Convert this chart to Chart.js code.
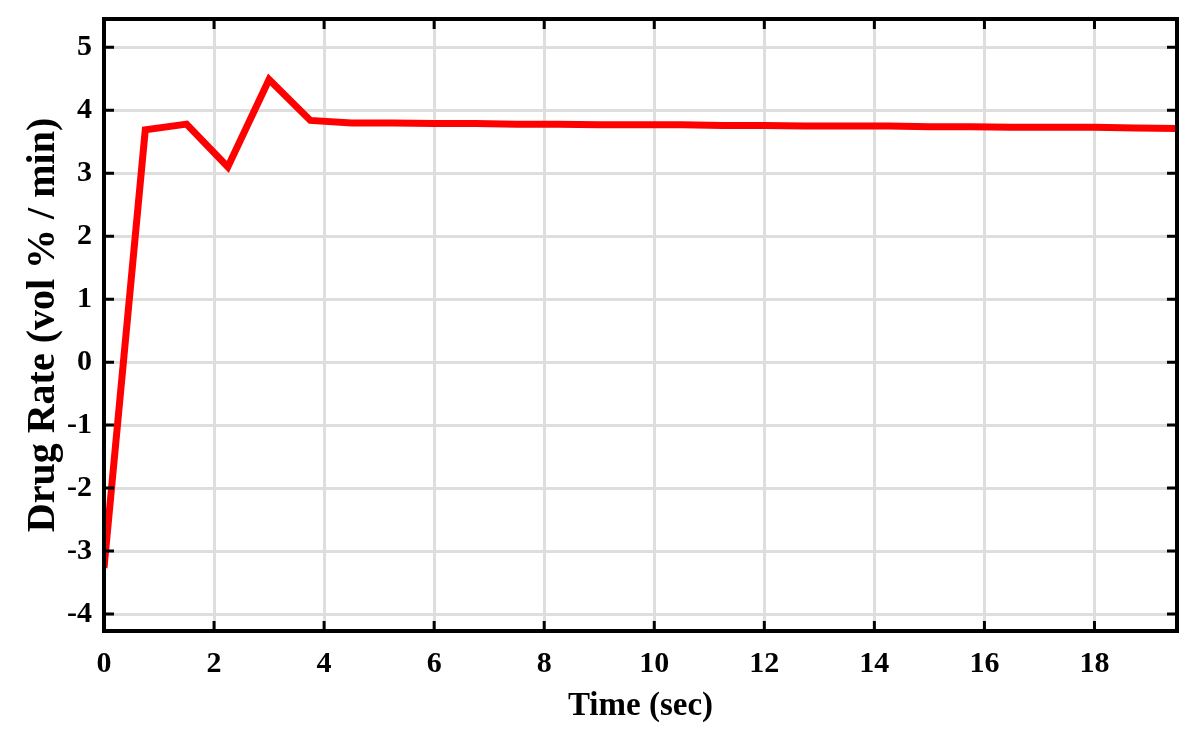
<!DOCTYPE html>
<html>
<head>
<meta charset="utf-8">
<script src="https://cdn.jsdelivr.net/npm/chart.js@4/dist/chart.umd.min.js"></script>
<style>
  html, body { margin: 0; padding: 0; background: #fff; }
  #wrap { width: 1200px; height: 739px; }
</style>
</head>
<body>
<div id="wrap"><canvas id="rateChart" width="1200" height="739"></canvas></div>
<script>
const timeSec = [0, 0.75, 1.5, 2.25, 3, 3.75, 4.5, 5.25, 6, 6.75, 7.5, 8.25, 9, 9.75,
  10.5, 11.25, 12, 12.75, 13.5, 14.25, 15, 15.75, 16.5, 17.25, 18, 18.75, 19.5];
const drugRate = [-3.27, 3.69, 3.78, 3.1, 4.49, 3.84, 3.8, 3.8, 3.79, 3.79, 3.78, 3.78, 3.77, 3.77,
  3.77, 3.76, 3.76, 3.75, 3.75, 3.75, 3.74, 3.74, 3.73, 3.73, 3.73, 3.72, 3.71];
const xTicks = [0, 2, 4, 6, 8, 10, 12, 14, 16, 18];
const yTicks = [-4, -3, -2, -1, 0, 1, 2, 3, 4, 5];

const points = timeSec.map((t, i) => ({ x: t, y: drugRate[i] }));
const fontFam = "'Liberation Serif', 'Times New Roman', serif";

// box round the plot and MATLAB style ticks pointing inward
const boxPlugin = {
  id: "box",
  afterDatasetsDraw(chart) {
    const { ctx, chartArea: a, scales: { x, y } } = chart;
    const len = 10;
    ctx.save();
    ctx.strokeStyle = "#000";
    ctx.lineWidth = 3;
    ctx.beginPath();
    xTicks.forEach(v => {
      const px = x.getPixelForValue(v);
      ctx.moveTo(px, a.bottom); ctx.lineTo(px, a.bottom - len);
      ctx.moveTo(px, a.top); ctx.lineTo(px, a.top + len);
    });
    yTicks.forEach(v => {
      const py = y.getPixelForValue(v);
      ctx.moveTo(a.left, py); ctx.lineTo(a.left + len, py);
      ctx.moveTo(a.right, py); ctx.lineTo(a.right - len, py);
    });
    ctx.stroke();
    ctx.lineWidth = 4;
    ctx.strokeRect(a.left, a.top, a.right - a.left, a.bottom - a.top);
    ctx.restore();
  }
};

new Chart(document.getElementById("rateChart"), {
  type: "line",
  data: {
    datasets: [{
      data: points,
      borderColor: "#ff0000",
      borderWidth: 7,
      pointRadius: 0,
      tension: 0,
      fill: false
    }]
  },
  options: {
    responsive: false,
    animation: false,
    layout: { padding: { left: 0, top: 19, right: 23, bottom: 0 } },
    plugins: { legend: { display: false }, tooltip: { enabled: false } },
    scales: {
      x: {
        type: "linear",
        min: 0,
        max: 19.5,
        afterFit(s) { s.height = 108; s.paddingLeft = 0; s.paddingRight = 0; },
        afterBuildTicks(s) { s.ticks = xTicks.map(v => ({ value: v })); },
        grid: { color: "#dedede", lineWidth: 3, drawTicks: false },
        border: { display: false },
        ticks: {
          padding: 15,
          color: "#000",
          font: { family: fontFam, size: 30, weight: "bold" }
        },
        title: {
          display: true,
          text: "Time (sec)",
          color: "#000",
          padding: { top: 0, bottom: 13 },
          font: { family: fontFam, size: 33, weight: "bold" }
        }
      },
      y: {
        min: -4.27,
        max: 5.45,
        afterFit(s) { s.width = 104; s.paddingTop = 0; s.paddingBottom = 0; },
        afterBuildTicks(s) { s.ticks = yTicks.map(v => ({ value: v })); },
        grid: { color: "#dedede", lineWidth: 3, drawTicks: false },
        border: { display: false },
        ticks: {
          padding: 12,
          color: "#000",
          font: { family: fontFam, size: 30, weight: "bold" }
        },
        title: {
          display: true,
          text: "Drug Rate (vol % / min)",
          color: "#000",
          padding: { top: 20, bottom: 0 },
          font: { family: fontFam, size: 40, weight: "bold" }
        }
      }
    }
  },
  plugins: [boxPlugin]
});
</script>
</body>
</html>
